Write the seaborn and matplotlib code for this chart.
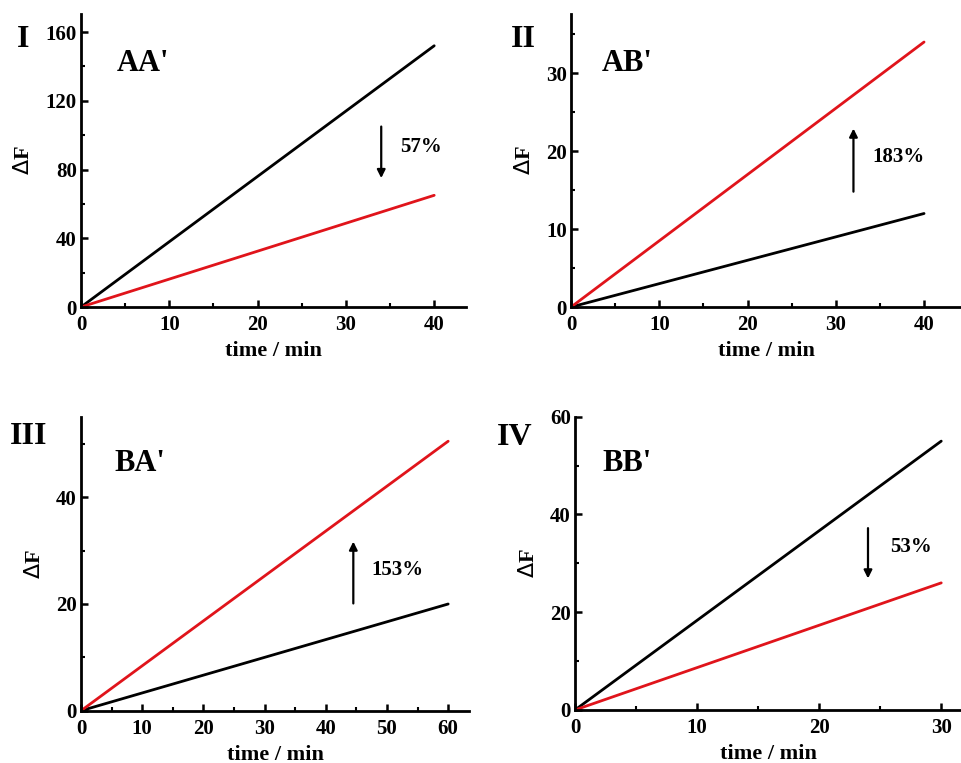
import matplotlib
matplotlib.use("Agg")
import matplotlib.pyplot as plt
import seaborn as sns
import pandas as pd
from matplotlib.ticker import MultipleLocator

sns.set_theme(style="ticks")
plt.rcParams['font.family'] = ['Liberation Serif', 'DejaVu Serif']
plt.rcParams['mathtext.fontset'] = 'custom'
plt.rcParams['mathtext.it'] = 'Liberation Serif:italic:bold'
plt.rcParams['mathtext.bf'] = 'Liberation Serif:bold'
plt.rcParams['text.color'] = 'black'
plt.rcParams['axes.labelcolor'] = 'black'
plt.rcParams['xtick.color'] = 'black'
plt.rcParams['ytick.color'] = 'black'

# ---- data ----
panels = ["I", "II", "III", "IV"]
names = ["AA'", "AB'", "BA'", "BB'"]
t_end = [40, 40, 60, 30]
black_end = [152, 12, 20, 55]
red_end = [65, 34, 50.5, 26]
percents = ["57%", "183%", "153%", "53%"]
arrow_x = [34, 32, 44.5, 24]
arrow_from = [105, 14.8, 20.1, 37.2]
arrow_to = [75, 22.9, 31.7, 26.9]
text_xy = [(36.1, 93), (34.2, 19.3), (47.5, 26.4), (25.8, 33.4)]
xlims = [(0, 43.6), (0, 44.3), (0, 63.4), (0, 31.7)]
ylims = [(0, 170.5), (0, 37.6), (0, 55.1), (0, 60)]
xmajor = [10, 10, 10, 10]
ymajor = [40, 10, 20, 20]
ymajor_labeled = [[0, 40, 80, 120, 160], [0, 10, 20, 30], [0, 20, 40], [0, 20, 40, 60]]

# axes rectangles in figure fraction
rects = [
    (0.0842, 0.5976, 0.4002, 0.3841),
    (0.5936, 0.5976, 0.4064, 0.3841),
    (0.0842, 0.0685, 0.4033, 0.3854),
    (0.5977, 0.0695, 0.4023, 0.3844),
]
panel_label_pos = [(0.018, 0.948), (0.531, 0.948), (0.010, 0.428), (0.516, 0.427)]
name_pos = [(0.121, 0.917), (0.626, 0.917), (0.119, 0.393), (0.626, 0.393)]

fig = plt.figure(figsize=(9.62, 7.63), dpi=100)

for i in range(4):
    ax = fig.add_axes(rects[i])
    df = pd.DataFrame({
        "time": [0, t_end[i], 0, t_end[i]],
        "dF": [0, black_end[i], 0, red_end[i]],
        "series": ["black", "black", "red", "red"],
    })
    sns.lineplot(data=df, x="time", y="dF", hue="series",
                 palette={"black": "#000000", "red": "#e0141b"},
                 linewidth=2.0, legend=False, ax=ax)
    ax.xaxis.set_minor_locator(MultipleLocator(xmajor[i] / 2))
    ax.yaxis.set_minor_locator(MultipleLocator(ymajor[i] / 2))
    ax.set_yticks(ymajor_labeled[i])
    ax.set_xticks(list(range(0, t_end[i] + 1, xmajor[i])))
    ax.set_xlim(*xlims[i])
    ax.set_ylim(*ylims[i])
    for s in ["top", "right"]:
        ax.spines[s].set_visible(False)
    for s in ["left", "bottom"]:
        ax.spines[s].set_linewidth(2.0)
        ax.spines[s].set_color("black")
    ax.tick_params(which="major", direction="in", length=5, width=1.8,
                   labelsize=15, pad=3, colors="black")
    ax.tick_params(axis="x", which="major", pad=6)
    ax.tick_params(which="minor", direction="in", length=3, width=1.5, colors="black")
    for lab in ax.get_xticklabels() + ax.get_yticklabels():
        lab.set_fontweight("bold")
    ax.set_xlabel("time / min", fontsize=16, fontweight="bold", labelpad=4)
    ax.set_ylabel(r"$\mathit{\Delta}$F", fontsize=16, fontweight="bold", labelpad=8)
    ax.set_facecolor("white")
    # arrow
    ax.annotate("", xy=(arrow_x[i], arrow_to[i]), xytext=(arrow_x[i], arrow_from[i]),
                arrowprops=dict(arrowstyle="-|>", color="black", lw=1.6,
                                mutation_scale=12, shrinkA=0, shrinkB=0))
    ax.text(text_xy[i][0], text_xy[i][1], percents[i], fontsize=15,
            fontweight="bold", ha="left", va="center")
    fig.text(panel_label_pos[i][0], panel_label_pos[i][1], panels[i], fontsize=23,
             fontweight="bold", ha="left", va="center")
    fig.text(name_pos[i][0], name_pos[i][1], names[i], fontsize=22,
             fontweight="bold", ha="left", va="center")

fig.savefig("out.png", dpi=100, facecolor="white")
